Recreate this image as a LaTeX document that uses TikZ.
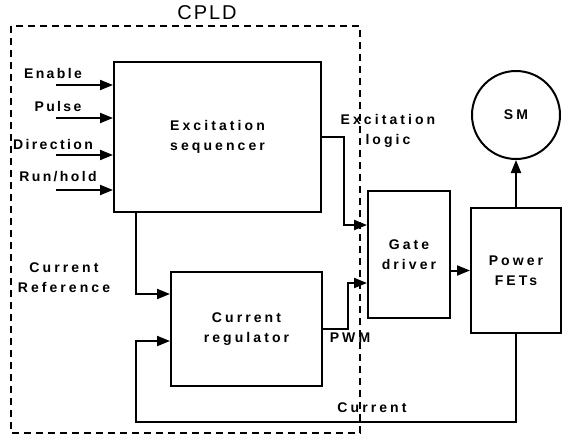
\documentclass[tikz,border=0pt]{standalone}
\usepackage{fontspec}
\setmainfont{Liberation Sans}[LetterSpace=22]
\usetikzlibrary{arrows.meta,calc}
\begin{document}
\begin{tikzpicture}[x=1pt,y=-1pt,
  blk/.style={draw,line width=2pt,rectangle,inner sep=0pt,align=center},
  arr/.style={line width=2pt,-{Triangle[length=13pt,width=10pt]}},
  lbl/.style={inner sep=0pt,align=center},
  inlbl/.style={inner sep=0pt,align=center,font=\fontsize{14}{20}\selectfont\bfseries\addfontfeature{LetterSpace=17}},
  every node/.style={font=\fontsize{14}{20}\selectfont\bfseries}]
\useasboundingbox (0,0) rectangle (563,439);
% CPLD boundary
\draw[line width=2pt,dash pattern=on 7pt off 5pt] (11,26) rectangle (360,433);
\node[lbl,font=\fontsize{20}{22}\selectfont\addfontfeature{LetterSpace=10}] (cpld) at (207,13) {CPLD};
% blocks
\node[blk,minimum width=207pt,minimum height=150pt] (seq) at (217.5,137) {Excitation\\sequencer};
\node[blk,minimum width=151pt,minimum height=114pt] (reg) at (246.5,329) {Current\\regulator};
\node[blk,minimum width=82pt,minimum height=127pt] (gate) at (409,254.5) {Gate\\driver};
\node[blk,minimum width=90pt,minimum height=125pt] (fets) at (516,270.5) {Power\\FETs};
\node[draw,circle,line width=2pt,minimum size=88pt,inner sep=0pt] (sm) at (516,115) {SM};
% inputs
\coordinate (in1) at (56,85);
\coordinate (in2) at (56,118);
\coordinate (in3) at (56,155);
\coordinate (in4) at (56,190);
\draw[arr] (in1) -- (in1 -| seq.west);
\draw[arr] (in2) -- (in2 -| seq.west);
\draw[arr] (in3) -- (in3 -| seq.west);
\draw[arr] (in4) -- (in4 -| seq.west);
\node[inlbl] (len) at (53,73) {Enable};
\node[inlbl] (lpu) at (58,106) {Pulse};
\node[inlbl] (ldi) at (53,144) {Direction};
\node[inlbl] (lrh) at (58,177) {Run/hold};
% connections
\draw[arr] (seq.east) -- ++(22,0) |- ([yshift=29.5pt]gate.west);
\draw[arr] (reg.east) -- ++(25,0) |- ([yshift=-28.5pt]gate.west);
\draw[arr] (gate.east |- fets.west) -- (fets.west);
\draw[arr] (fets.north) -- (sm.south);
\draw[arr] ([xshift=-81.5pt]seq.south) |- ([yshift=35pt]reg.west);
\coordinate (fb) at (136,422);
\draw[arr] (fets.south) |- (fb) |- ([yshift=-12pt]reg.west);
% labels
\node[lbl] (lref) at (64,278) {Current\\Reference};
\node[lbl] (lexl) at (388,131) {Excitation\\logic};
\node[lbl] (lpwm) at (350,338) {PWM};
\node[lbl] (lcur) at (372,408) {Current};
\end{tikzpicture}
\end{document}
